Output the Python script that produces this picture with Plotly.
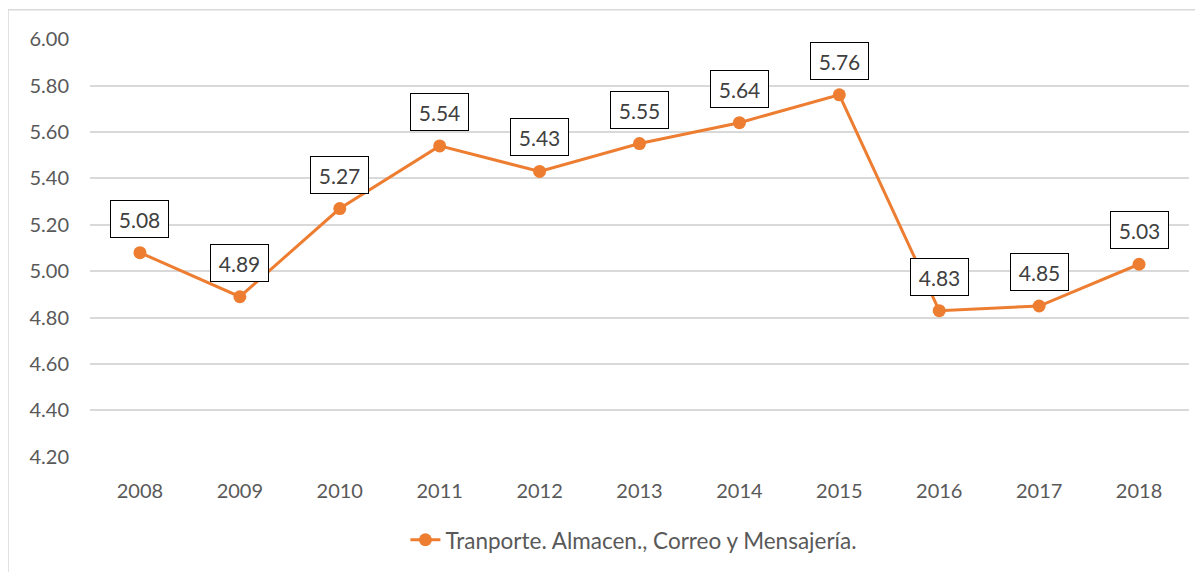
import plotly.graph_objects as go

years = ["2008", "2009", "2010", "2011", "2012", "2013", "2014", "2015", "2016", "2017", "2018"]
values = [5.08, 4.89, 5.27, 5.54, 5.43, 5.55, 5.64, 5.76, 4.83, 4.85, 5.03]
labels = ["5.08", "4.89", "5.27", "5.54", "5.43", "5.55", "5.64", "5.76", "4.83", "4.85", "5.03"]
series_name = "Tranporte. Almacen., Correo y Mensajería."
y_ticks = [4.2, 4.4, 4.6, 4.8, 5.0, 5.2, 5.4, 5.6, 5.8, 6.0]
y_tick_text = ["4.20", "4.40", "4.60", "4.80", "5.00", "5.20", "5.40", "5.60", "5.80", "6.00"]

ORANGE = "#ED7D31"
GRID = "#D9D9D9"
TXT = "#595959"
FONT = "Lato"

fig = go.Figure()
fig.add_trace(go.Scatter(
    x=years, y=values, name=series_name, mode="lines+markers",
    line=dict(color=ORANGE, width=3),
    marker=dict(color=ORANGE, size=13),
))

for i, (y, t) in enumerate(zip(values, labels)):
    fig.add_annotation(
        x=i, y=y, xref="x", yref="y", text=t, showarrow=False, yshift=34,
        xanchor="center", yanchor="middle",
        font=dict(family=FONT, size=21, color="#404040"),
        bgcolor="white", bordercolor="black", borderwidth=1, borderpad=0,
        width=57, height=36,
    )

# chart-area border (only left/top edges fall inside the picture)
fig.add_shape(type="rect", xref="paper", yref="paper",
              x0=-0.0746, x1=1.05, y0=-0.5, y1=1.0697,
              line=dict(color=GRID, width=1.5), fillcolor="rgba(0,0,0,0)", layer="below")

fig.update_layout(
    width=1195, height=564,
    margin=dict(l=82, r=14, t=31, b=114),
    paper_bgcolor="white", plot_bgcolor="white",
    font=dict(family=FONT, size=20, color=TXT),
    showlegend=True,
    legend=dict(orientation="h", x=0.287, xanchor="left", y=-0.196, yanchor="middle",
                font=dict(family=FONT, size=22.5, color=TXT), bgcolor="rgba(0,0,0,0)"),
    xaxis=dict(type="category", showgrid=False, showline=False, zeroline=False,
               ticks="", tickfont=dict(family=FONT, size=20, color=TXT),
               ticklabelstandoff=20, range=[-0.5, 10.5]),
    yaxis=dict(range=[4.1995, 6.0005], tickvals=y_ticks, ticktext=y_tick_text,
               showgrid=True, gridcolor=GRID, gridwidth=1.5, zeroline=False, showline=False,
               ticks="", tickfont=dict(family=FONT, size=20, color=TXT),
               ticklabelstandoff=20),
)

fig.write_html("out.html")
